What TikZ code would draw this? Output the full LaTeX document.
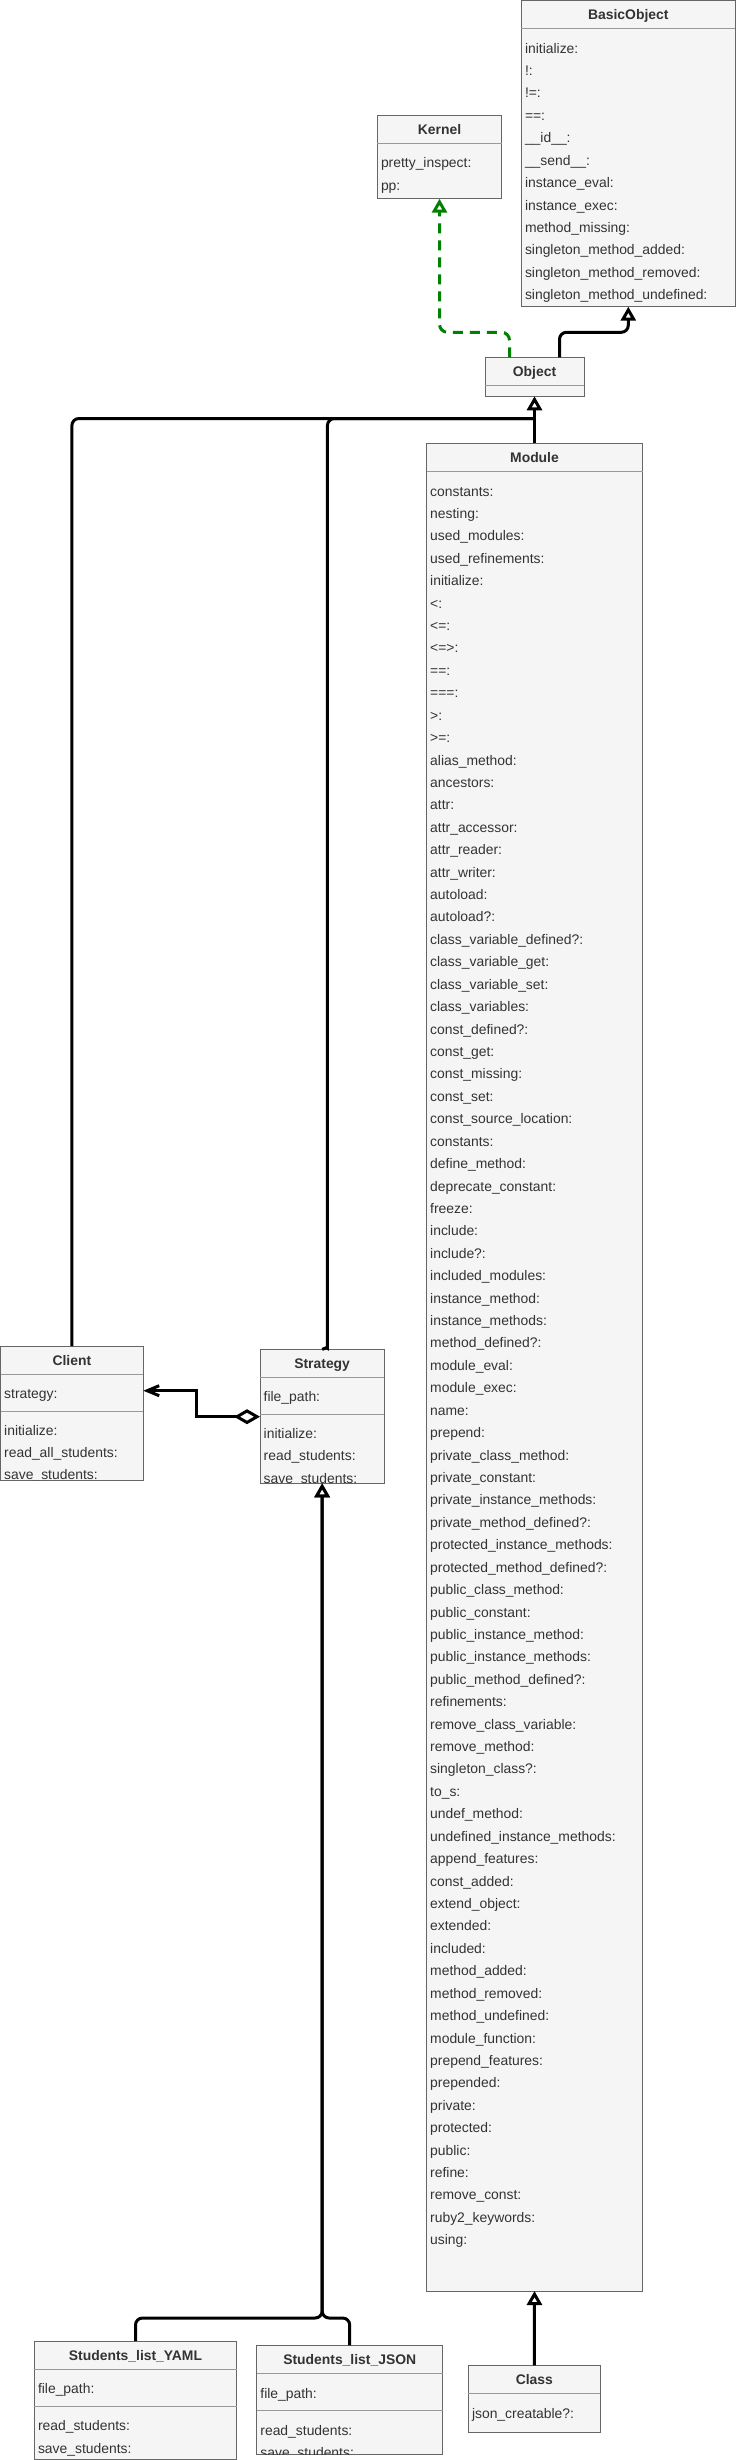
\documentclass[tikz,border=0pt]{standalone}
\usepackage{fontspec}
\setmainfont{Liberation Sans}
\usetikzlibrary{arrows.meta}

\definecolor{boxfill}{HTML}{F5F5F5}
\definecolor{boxline}{HTML}{666666}
\definecolor{boxtext}{HTML}{333333}
\definecolor{divline}{HTML}{999999}
\definecolor{realgreen}{HTML}{008000}

\tikzset{
  classbox/.style={draw=boxline, fill=boxfill, line width=1pt, inner sep=0pt, outer sep=0pt, anchor=north west},
  classtitle/.style={font=\fontsize{13.9pt}{16pt}\selectfont\bfseries, text=boxtext, inner sep=0pt, text height=10pt, text depth=0pt},
  member/.style={font=\fontsize{13.9pt}{16pt}\selectfont, text=boxtext, inner sep=0pt, anchor=west, text height=10pt, text depth=0pt},
  divider/.style={draw=divline, line width=1pt},
  link/.style={draw=black, line width=3pt, rounded corners=7pt},
  inherit/.style={link, -{Triangle[length=14pt,width=15pt,fill=white]}},
  realize/.style={draw=realgreen, line width=3pt, dash pattern=on 10pt off 7pt, rounded corners=8pt, -{Triangle[length=14pt,width=15pt,fill=white]}},
  aggregate/.style={draw=black, line width=3pt, {Diamond[length=26pt,width=15pt,fill=white]}-{Straight Barb[length=12pt,width=10pt]}},
}

% class box: name, x, y, width, height, title
\newcommand{\umlclass}[6]{%
  \node[classbox, minimum width=#4pt, minimum height=#5pt] (#1) at (#2,#3) {};
  \node[classtitle] (#1-title) at ([yshift=-14pt]#1.north) {#6};
  \draw[divider] ([yshift=-28.3pt]#1.north west) -- ([yshift=-28.3pt]#1.north east);
}
\newcommand{\umldivider}[2]{%
  \draw[divider] ([yshift=-#2pt]#1.north west) -- ([yshift=-#2pt]#1.north east);
}
% rows: box, offset of first row, prefix, list
\newcommand{\umlrows}[4]{%
  \begin{scope}
    \clip (#1.south west) rectangle (#1.north east);
    \foreach \m [count=\i from 0] in {#4}
      \node[member] (#1-#3\i) at ([shift={(3.5pt,-#2pt-\i*22.42pt)}]#1.north west) {\m};
  \end{scope}
}

\begin{document}
\begin{tikzpicture}[x=1pt, y=-1pt]
  \useasboundingbox (0,0) rectangle (736,2460);

  % Ruby core classes
  \umlclass{basicobj}{521.3}{0.5}{214}{306.2}{BasicObject}
  \umlrows{basicobj}{47.6}{m}{initialize:, !:, !=:, ==:, \_\_id\_\_:, \_\_send\_\_:,
    instance\_eval:, instance\_exec:, method\_missing:, singleton\_method\_added:,
    singleton\_method\_removed:, singleton\_method\_undefined:}

  \umlclass{kernel}{377.3}{115.3}{124.4}{83.4}{Kernel}
  \umlrows{kernel}{47.4}{m}{pretty\_inspect:, pp:}

  \umlclass{object}{485}{357.3}{99}{39}{Object}

  \umlclass{module}{426.5}{443.3}{216}{1847.7}{Module}
  \umlrows{module}{47.7}{m}{constants:, nesting:, used\_modules:, used\_refinements:,
    initialize:, <:, <=:, <=>:, ==:, ===:, >:, >=:, alias\_method:, ancestors:, attr:,
    attr\_accessor:, attr\_reader:, attr\_writer:, autoload:, autoload?:,
    class\_variable\_defined?:, class\_variable\_get:, class\_variable\_set:,
    class\_variables:, const\_defined?:, const\_get:, const\_missing:, const\_set:,
    const\_source\_location:, constants:, define\_method:, deprecate\_constant:,
    freeze:, include:, include?:, included\_modules:, instance\_method:,
    instance\_methods:, method\_defined?:, module\_eval:, module\_exec:, name:,
    prepend:, private\_class\_method:, private\_constant:,
    private\_instance\_methods:, private\_method\_defined?:,
    protected\_instance\_methods:, protected\_method\_defined?:,
    public\_class\_method:, public\_constant:, public\_instance\_method:,
    public\_instance\_methods:, public\_method\_defined?:, refinements:,
    remove\_class\_variable:, remove\_method:, singleton\_class?:, to\_s:,
    undef\_method:, undefined\_instance\_methods:, append\_features:,
    const\_added:, extend\_object:, extended:, included:, method\_added:,
    method\_removed:, method\_undefined:, module\_function:, prepend\_features:,
    prepended:, private:, protected:, public:, refine:, remove\_const:,
    ruby2\_keywords:, using:}

  \umlclass{class}{468.3}{2365.3}{132}{67}{Class}
  \umlrows{class}{47.7}{m}{json\_creatable?:}

  % Strategy pattern classes
  \umlclass{client}{0.5}{1346}{142.8}{134}{Client}
  \umlrows{client}{47.3}{a}{strategy:}
  \umldivider{client}{65}
  \umlrows{client}{84}{m}{initialize:, read\_all\_students:, save\_students:}

  \umlclass{strategy}{260}{1349.3}{124.3}{134}{Strategy}
  \umlrows{strategy}{47.4}{a}{file\_path:}
  \umldivider{strategy}{65}
  \umlrows{strategy}{84}{m}{initialize:, read\_students:, save\_students:}

  \umlclass{yaml}{34.3}{2341}{202.4}{118.5}{Students\_list\_YAML}
  \umlrows{yaml}{47.7}{a}{file\_path:}
  \umldivider{yaml}{65.3}
  \umlrows{yaml}{84.7}{m}{read\_students:, save\_students:}

  \umlclass{json}{256.7}{2345.3}{186}{108.7}{Students\_list\_JSON}
  \umlrows{json}{47.7}{a}{file\_path:}
  \umldivider{json}{65.4}
  \umlrows{json}{84.7}{m}{read\_students:, save\_students:}

  % Junction points
  \coordinate (objjoin) at ([yshift=-22.2pt]object.south);
  \coordinate (stratjoin) at (322.15,2318);

  % Inheritance and realization
  \draw[realize] ([xshift=-25pt]object.north) -- ++(0,25pt) -| (kernel.south);
  \draw[inherit] ([xshift=25pt]object.north) -- ++(0,25pt) -| (basicobj.south);
  \draw[link] (client.north) |- (objjoin);
  \draw[link] (strategy.north) .. controls +(4pt,1pt) and +(0,-5pt) .. ([xshift=5.3pt,yshift=8pt]strategy.north) |- (objjoin);
  \draw[inherit] (module.north) -- (object.south);
  \draw[inherit] (class.north) -- (module.south);
  \draw[inherit] (yaml.north) |- (stratjoin) -- (strategy.south);
  \draw[inherit] (json.north) |- (stratjoin) -- (strategy.south);

  % Aggregation
  \draw[aggregate] ([yshift=-67.4pt]strategy.north west) -- ++(-63.3pt,0) |- ([yshift=-44.7pt]client.north east);
\end{tikzpicture}
\end{document}
